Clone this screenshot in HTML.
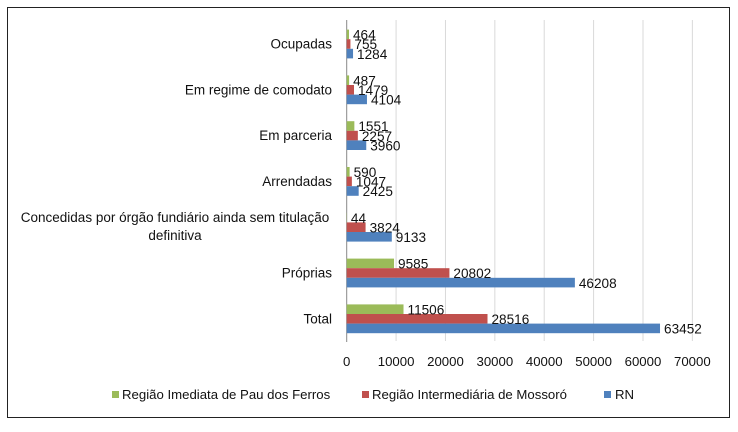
<!DOCTYPE html>
<html><head><meta charset="utf-8"><style>
body{margin:0;background:#fff;}
svg text{font-family:"Liberation Sans",sans-serif;fill:#111;}
</style></head><body>
<svg width="738" height="427" xmlns="http://www.w3.org/2000/svg">
<rect x="7.5" y="7.5" width="722" height="410" fill="#fff" stroke="#222" stroke-width="1"/>
<g id="grid"></g><g id="bars"></g><g id="labels"></g><g id="cats"></g><g id="ticks"></g>
<g>
<rect x="112" y="391" width="7" height="7" fill="#9bbb59"/>
<text x="122" y="399" font-size="13.2">Região Imediata de Pau dos Ferros</text>
<rect x="362" y="391" width="7" height="7" fill="#c0504d"/>
<text x="372" y="399" font-size="13.2">Região Intermediária de Mossoró</text>
<rect x="604" y="391" width="7" height="7" fill="#4f81bd"/>
<text x="615" y="399" font-size="13.2">RN</text>
</g>
</svg>
<script>
const categories=["Ocupadas","Em regime de comodato","Em parceria","Arrendadas","Concedidas por órgão fundiário ainda sem titulação|definitiva","Próprias","Total"];
const pauDosFerros=[464,487,1551,590,44,9585,11506];
const mossoro=[755,1479,2257,1047,3824,20802,28516];
const rn=[1284,4104,3960,2425,9133,46208,63452];
const ticks=[0,10000,20000,30000,40000,50000,60000,70000];
const NS="http://www.w3.org/2000/svg";
const x0=346.7,k=0.004938;
const xs=v=>x0+v*k;
const yc=i=>44+i*45.8;
function mk(t,a,p){const e=document.createElementNS(NS,t);for(const q in a)e.setAttribute(q,a[q]);document.getElementById(p).appendChild(e);return e;}
ticks.forEach(t=>{
 const g=mk("line",{x1:xs(t),x2:xs(t),y1:20,y2:t===0?342:341,stroke:t===0?"#888":"#d9d9d9","stroke-width":1},"grid");
 
 
 const tk=mk("text",{x:xs(t),y:366,"font-size":13.2,"text-anchor":"middle"},"ticks");
 tk.textContent=t;
 
 
});
const series=[[pauDosFerros,"#9bbb59",-1],[mossoro,"#c0504d",0],[rn,"#4f81bd",1]];
categories.forEach((c,i)=>{
 series.forEach(([arr,col,o])=>{
  const y=yc(i)+o*9.6-4.8;
  const r=mk("rect",{x:x0,y:y,width:arr[i]*k,height:9.6,fill:col},"bars");
  
  
  const t=mk("text",{x:xs(arr[i])+4,y:y+10,"font-size":13.6},"labels");
  t.textContent=arr[i];
  
  
 });
 const parts=c.split("|");
 if(parts.length===1){
  const t=mk("text",{x:332,y:yc(i)+4.5,"font-size":13.5,"text-anchor":"end"},"cats");
  t.textContent=c;
  
  
 }else{
  const t=mk("text",{x:175,y:yc(i)-5,"font-size":13.5,"text-anchor":"middle"},"cats");
  t.textContent=parts[0];
  
  
  const t2=mk("text",{x:175,y:yc(i)+13,"font-size":13.5,"text-anchor":"middle"},"cats");
  t2.textContent=parts[1];
  
  
 }
});
</script>
</body></html>
